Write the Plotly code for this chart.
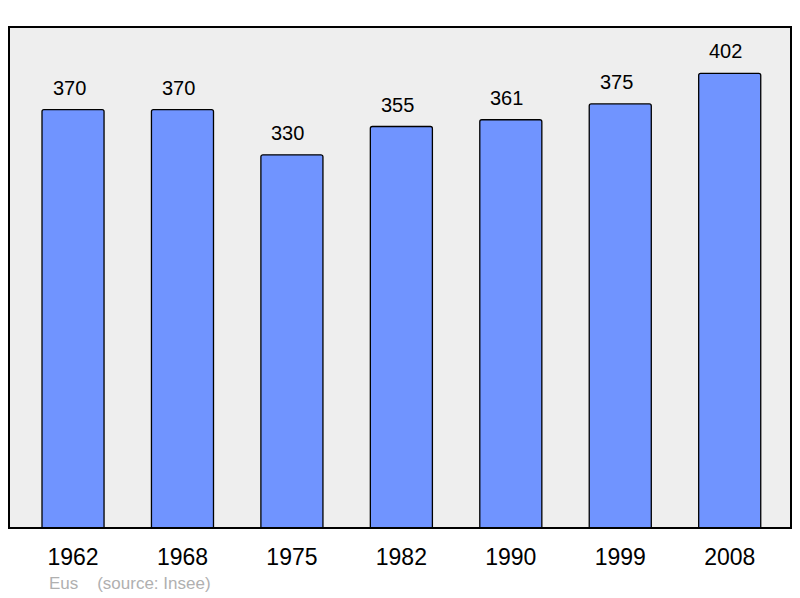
import plotly.graph_objects as go

annees = ["1962", "1968", "1975", "1982", "1990", "1999", "2008"]
population = [370, 370, 330, 355, 361, 375, 402]
commune = "Eus"
source = "(source: Insee)"

police = "Liberation Sans, Arial"

fig = go.Figure()

fig.add_trace(go.Bar(
    x=annees, y=population,
    width=0.567,
    marker=dict(color="#7094ff", line=dict(color="black", width=1.3), cornerradius=2),
    hoverinfo="x+y",
))

# valeurs au-dessus des barres (x = index de la catégorie)
for i, p in enumerate(population):
    fig.add_annotation(x=i, y=p, text=str(p), showarrow=False,
                       yanchor="bottom", yshift=9, xshift=-4,
                       font=dict(family=police, size=20, color="black"))

fig.add_annotation(xref="paper", yref="paper", x=0.048, y=-0.087,
                   xanchor="left", yanchor="top", showarrow=False,
                   text=commune + "&nbsp;&nbsp;&nbsp;&nbsp;" + source,
                   font=dict(family=police, size=17, color="#b0b0b0"))

fig.add_shape(type="rect", xref="paper", yref="paper", x0=0, y0=0, x1=1, y1=1,
              line=dict(color="black", width=2), layer="above")

fig.update_layout(
    width=784, height=590,
    margin=dict(l=1, r=1, t=19, b=70),
    paper_bgcolor="white",
    plot_bgcolor="#eeeeee",
    showlegend=False,
    xaxis=dict(type="category", range=[-0.585, 6.56], showgrid=False, zeroline=False,
               ticks="", ticklabelstandoff=13,
               tickfont=dict(family=police, size=23, color="black")),
    yaxis=dict(range=[0, 443], showgrid=False, zeroline=False, showticklabels=False),
)

fig.write_html("out.html")
